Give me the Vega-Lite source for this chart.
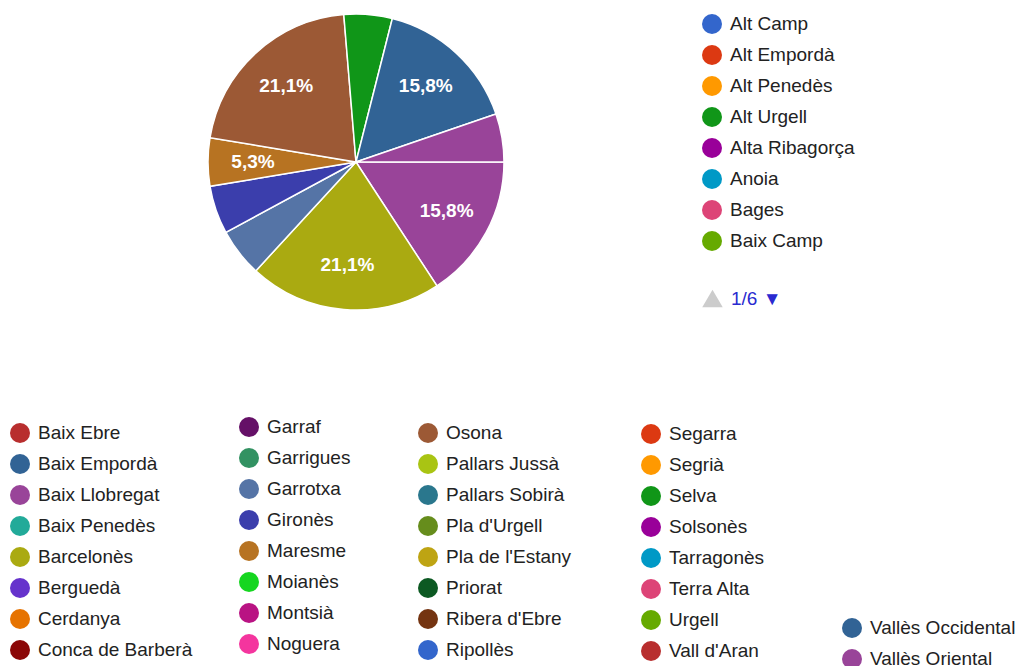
{
  "$schema": "https://vega.github.io/schema/vega-lite/v6.json",
  "autosize": {"type": "none"},
  "width": 712,
  "height": 324,
  "padding": {"left": 0, "top": 0, "right": 311, "bottom": 342},
  "background": "white",
  "config": {
    "view": {"stroke": null},
    "locale": {"number": {"decimal": ",", "thousands": ".", "grouping": [3], "currency": ["", " €"]}},
    "legend": {
      "orient": "none",
      "symbolType": "circle",
      "symbolSize": 400,
      "symbolStrokeWidth": 0,
      "symbolOpacity": 1,
      "labelFont": "Liberation Sans",
      "labelFontSize": 19,
      "labelColor": "#222222",
      "labelOffset": 8,
      "labelLimit": 400,
      "rowPadding": 11,
      "padding": 0
    }
  },
  "data": {
    "values": [
      {"comarca": "Alt Camp", "count": 0},
      {"comarca": "Alt Empordà", "count": 0},
      {"comarca": "Alt Penedès", "count": 0},
      {"comarca": "Alt Urgell", "count": 0},
      {"comarca": "Alta Ribagorça", "count": 0},
      {"comarca": "Anoia", "count": 0},
      {"comarca": "Bages", "count": 0},
      {"comarca": "Baix Camp", "count": 0},
      {"comarca": "Baix Ebre", "count": 0},
      {"comarca": "Baix Empordà", "count": 0},
      {"comarca": "Baix Llobregat", "count": 3},
      {"comarca": "Baix Penedès", "count": 0},
      {"comarca": "Barcelonès", "count": 4},
      {"comarca": "Berguedà", "count": 0},
      {"comarca": "Cerdanya", "count": 0},
      {"comarca": "Conca de Barberà", "count": 0},
      {"comarca": "Garraf", "count": 0},
      {"comarca": "Garrigues", "count": 0},
      {"comarca": "Garrotxa", "count": 1},
      {"comarca": "Gironès", "count": 1},
      {"comarca": "Maresme", "count": 1},
      {"comarca": "Moianès", "count": 0},
      {"comarca": "Montsià", "count": 0},
      {"comarca": "Noguera", "count": 0},
      {"comarca": "Osona", "count": 4},
      {"comarca": "Pallars Jussà", "count": 0},
      {"comarca": "Pallars Sobirà", "count": 0},
      {"comarca": "Pla d'Urgell", "count": 0},
      {"comarca": "Pla de l'Estany", "count": 0},
      {"comarca": "Priorat", "count": 0},
      {"comarca": "Ribera d'Ebre", "count": 0},
      {"comarca": "Ripollès", "count": 0},
      {"comarca": "Segarra", "count": 0},
      {"comarca": "Segrià", "count": 0},
      {"comarca": "Selva", "count": 1},
      {"comarca": "Solsonès", "count": 0},
      {"comarca": "Tarragonès", "count": 0},
      {"comarca": "Terra Alta", "count": 0},
      {"comarca": "Urgell", "count": 0},
      {"comarca": "Vall d'Aran", "count": 0},
      {"comarca": "Vallès Occidental", "count": 3},
      {"comarca": "Vallès Oriental", "count": 1}
    ]
  },
  "layer": [
    {
      "transform": [{"filter": "datum.count > 0"}],
      "mark": {"type": "arc", "outerRadius": 148, "stroke": "white", "strokeWidth": 1.5},
      "encoding": {
        "theta": {"field": "count", "type": "quantitative", "stack": true, "scale": {"range": [1.5707963, 7.8539816]}},
        "order": {"field": "comarca", "sort": "ascending"},
        "color": {
          "field": "comarca",
          "type": "nominal",
          "scale": {
            "domain": ["Alt Camp","Alt Empordà","Alt Penedès","Alt Urgell","Alta Ribagorça","Anoia","Bages","Baix Camp","Baix Ebre","Baix Empordà","Baix Llobregat","Baix Penedès","Barcelonès","Berguedà","Cerdanya","Conca de Barberà","Garraf","Garrigues","Garrotxa","Gironès","Maresme","Moianès","Montsià","Noguera","Osona","Pallars Jussà","Pallars Sobirà","Pla d'Urgell","Pla de l'Estany","Priorat","Ribera d'Ebre","Ripollès","Segarra","Segrià","Selva","Solsonès","Tarragonès","Terra Alta","Urgell","Vall d'Aran","Vallès Occidental","Vallès Oriental"],
            "range": ["#3366cc","#dc3912","#ff9900","#109618","#990099","#0099c6","#dd4477","#66aa00","#b82e2e","#316395","#994499","#22aa99","#aaaa11","#6633cc","#e67300","#8b0707","#651067","#329262","#5574a6","#3b3eac","#b77322","#16d620","#b91383","#f4359e","#9c5935","#a9c413","#2a778d","#668d1c","#bea413","#0c5922","#743411","#3366cc","#dc3912","#ff9900","#109618","#990099","#0099c6","#dd4477","#66aa00","#b82e2e","#316395","#994499"]
          },
          "legend": {"title": null, "legendX": 702, "legendY": 14, "values": ["Alt Camp","Alt Empordà","Alt Penedès","Alt Urgell","Alta Ribagorça","Anoia","Bages","Baix Camp"]}
        }
      }
    },
    {
      "transform": [
        {"filter": "datum.count > 0"},
        {"joinaggregate": [{"op": "sum", "field": "count", "as": "total"}]},
        {"calculate": "datum.count / datum.total", "as": "pct"},
        {"calculate": "datum.count > 1 || datum.comarca == 'Maresme'", "as": "shown"}
      ],
      "mark": {"type": "text", "radius": 103, "font": "Liberation Sans", "fontSize": 19, "fontWeight": "bold", "fill": "white", "align": "center", "baseline": "middle"},
      "encoding": {
        "theta": {"field": "count", "type": "quantitative", "stack": true, "scale": {"range": [1.5707963, 7.8539816]}},
        "order": {"field": "comarca", "sort": "ascending"},
        "text": {"condition": {"test": "datum.shown", "field": "pct", "type": "quantitative", "format": ".1%"}, "value": ""}
      }
    },
    {
      "transform": [{"filter": "false"}],
      "mark": {"type": "point", "filled": true, "opacity": 1},
      "encoding": {
        "color": {"field": "comarca", "type": "nominal",
          "scale": {"domain": ["1/6 ▼"], "range": ["#cccccc"]},
          "legend": {"title": null, "legendX": 702, "legendY": 288, "symbolType": "triangle-up", "symbolSize": 420, "labelColor": "#2a2ad0"}}
      }
    },
    {
      "transform": [{"filter": "false"}],
      "mark": {"type": "point", "filled": true, "opacity": 1},
      "encoding": {
        "color": {"field": "comarca", "type": "nominal",
          "scale": {"domain": ["Baix Ebre","Baix Empordà","Baix Llobregat","Baix Penedès","Barcelonès","Berguedà","Cerdanya","Conca de Barberà"], "range": ["#b82e2e","#316395","#994499","#22aa99","#aaaa11","#6633cc","#e67300","#8b0707"]},
          "legend": {"title": null, "legendX": 10, "legendY": 423}}
      }
    },
    {
      "transform": [{"filter": "false"}],
      "mark": {"type": "point", "filled": true, "opacity": 1},
      "encoding": {
        "color": {"field": "comarca", "type": "nominal",
          "scale": {"domain": ["Garraf","Garrigues","Garrotxa","Gironès","Maresme","Moianès","Montsià","Noguera"], "range": ["#651067","#329262","#5574a6","#3b3eac","#b77322","#16d620","#b91383","#f4359e"]},
          "legend": {"title": null, "legendX": 239, "legendY": 417}}
      }
    },
    {
      "transform": [{"filter": "false"}],
      "mark": {"type": "point", "filled": true, "opacity": 1},
      "encoding": {
        "color": {"field": "comarca", "type": "nominal",
          "scale": {"domain": ["Osona","Pallars Jussà","Pallars Sobirà","Pla d'Urgell","Pla de l'Estany","Priorat","Ribera d'Ebre","Ripollès"], "range": ["#9c5935","#a9c413","#2a778d","#668d1c","#bea413","#0c5922","#743411","#3366cc"]},
          "legend": {"title": null, "legendX": 418, "legendY": 423}}
      }
    },
    {
      "transform": [{"filter": "false"}],
      "mark": {"type": "point", "filled": true, "opacity": 1},
      "encoding": {
        "color": {"field": "comarca", "type": "nominal",
          "scale": {"domain": ["Segarra","Segrià","Selva","Solsonès","Tarragonès","Terra Alta","Urgell","Vall d'Aran"], "range": ["#dc3912","#ff9900","#109618","#990099","#0099c6","#dd4477","#66aa00","#b82e2e"]},
          "legend": {"title": null, "legendX": 641, "legendY": 424}}
      }
    },
    {
      "transform": [{"filter": "false"}],
      "mark": {"type": "point", "filled": true, "opacity": 1},
      "encoding": {
        "color": {"field": "comarca", "type": "nominal",
          "scale": {"domain": ["Vallès Occidental","Vallès Oriental"], "range": ["#316395","#994499"]},
          "legend": {"title": null, "legendX": 842, "legendY": 618}}
      }
    }
  ],
  "resolve": {"scale": {"color": "independent", "theta": "shared"}, "legend": {"color": "independent"}}
}
